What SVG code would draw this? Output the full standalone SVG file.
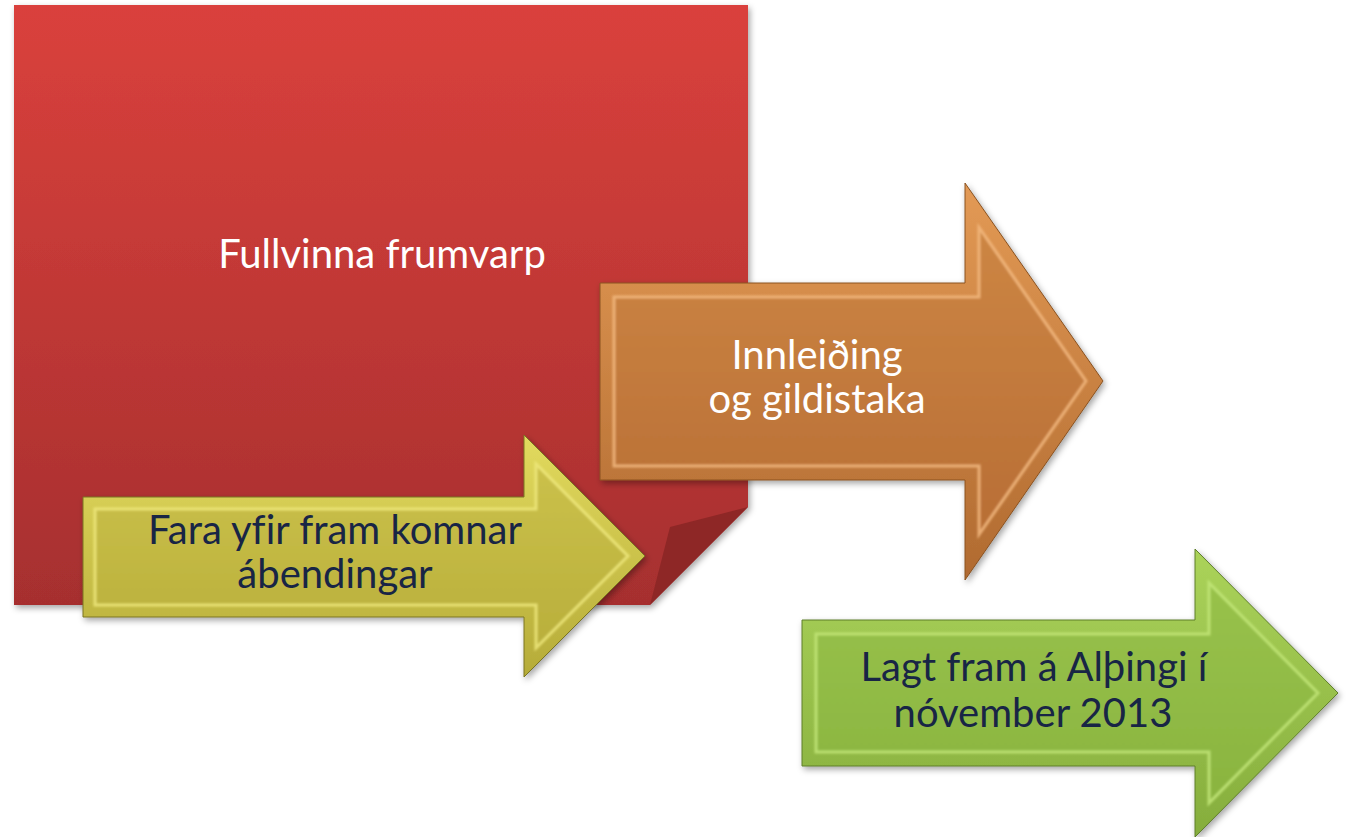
<svg xmlns="http://www.w3.org/2000/svg" width="1346" height="837" viewBox="0 0 1346 837">
<style>
.t{font-family:Lato,"Open Sans","Liberation Sans",sans-serif;font-size:40px;text-anchor:middle;font-variant-ligatures:none;font-feature-settings:"liga" 0}
.w{fill:#ffffff}
.n{fill:#182545}
.bev{stroke-width:3;stroke-opacity:0.8}
</style>
<defs>
<filter id="sh" x="-10%" y="-10%" width="125%" height="125%">
<feDropShadow dx="2" dy="3" stdDeviation="3" flood-color="#000" flood-opacity="0.35"/>
</filter>
<filter id="bl" x="-5%" y="-5%" width="110%" height="110%">
<feGaussianBlur stdDeviation="1.2"/>
</filter>
<linearGradient id="gRed" x1="0" y1="0" x2="0" y2="1">
<stop offset="0" stop-color="#DA413C"/>
<stop offset="1" stop-color="#A62F2F"/>
</linearGradient>
<linearGradient id="gOrO" x1="0" y1="0" x2="0" y2="1">
<stop offset="0" stop-color="#E39A55"/>
<stop offset="1" stop-color="#B06A30"/>
</linearGradient>
<linearGradient id="gOr" x1="0" y1="0" x2="0" y2="1">
<stop offset="0" stop-color="#CD8644"/>
<stop offset="1" stop-color="#B86E35"/>
</linearGradient>
<linearGradient id="gYeO" x1="0" y1="0" x2="0" y2="1">
<stop offset="0" stop-color="#E2DA5E"/>
<stop offset="1" stop-color="#B5AB38"/>
</linearGradient>
<linearGradient id="gYe" x1="0" y1="0" x2="0" y2="1">
<stop offset="0" stop-color="#CBC14A"/>
<stop offset="1" stop-color="#B9AF3C"/>
</linearGradient>
<linearGradient id="gGrO" x1="0" y1="0" x2="0" y2="1">
<stop offset="0" stop-color="#ABD35A"/>
<stop offset="1" stop-color="#85AD3C"/>
</linearGradient>
<linearGradient id="gGr" x1="0" y1="0" x2="0" y2="1">
<stop offset="0" stop-color="#98C24B"/>
<stop offset="1" stop-color="#8AB440"/>
</linearGradient>
</defs>

<g id="node-fullvinna">
<polygon points="14,5 748,5 748,507 650,605 14,605" fill="url(#gRed)" filter="url(#sh)"/>
<polygon points="670,527 748,507 650,605" fill="#8E2726"/>
<text class="t w" x="382" y="268">Fullvinna frumvarp</text>
</g>

<g id="node-innleiding">
<polygon points="600,283 965,283 965,183 1103,381 965,580 965,480 600,480" fill="url(#gOrO)" stroke="#8A5220" stroke-width="1" filter="url(#sh)"/>
<polygon class="bev" points="614,297 979,297 979,227.5 1086,381 979,534.5 979,466 614,466" fill="url(#gOr)" stroke="#F5BC82" filter="url(#bl)"/>
<text class="t w" x="817" y="369">Innleiðing</text>
<text class="t w" x="817" y="413">og gildistaka</text>
</g>

<g id="node-fara-yfir">
<polygon points="83,497 524,497 524,435 645,556 524,677 524,617 83,617" fill="url(#gYeO)" stroke="#7A7420" stroke-width="1" filter="url(#sh)"/>
<polygon class="bev" points="95,509 536,509 536,464 628,556 536,648 536,605 95,605" fill="url(#gYe)" stroke="#F0EA7E" filter="url(#bl)"/>
<text class="t n" x="335" y="544">Fara yfir fram komnar</text>
<text class="t n" x="335" y="588">ábendingar</text>
</g>

<g id="node-lagt-fram">
<polygon points="802,620 1195,620 1195,549 1338,693 1195,837 1195,766 802,766" fill="url(#gGrO)" stroke="#5E7E2A" stroke-width="1" filter="url(#sh)"/>
<polygon class="bev" points="816,634 1209,634 1209,583 1318,693 1209,803 1209,752 816,752" fill="url(#gGr)" stroke="#C4E87A" filter="url(#bl)"/>
<text class="t n" x="1034" y="681">Lagt fram á Alþingi í</text>
<text class="t n" x="1033" y="727">nóvember 2013</text>
</g>

<g id="connectors"/>
</svg>
